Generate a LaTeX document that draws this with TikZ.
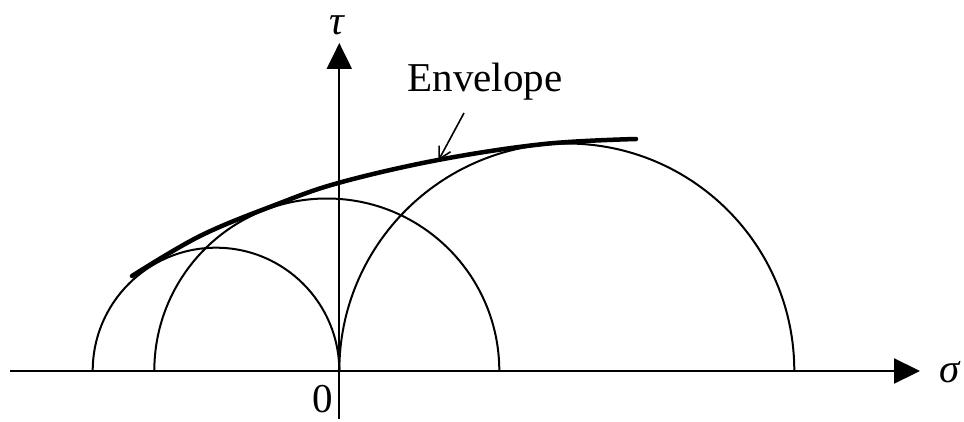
\documentclass[tikz,border=0pt]{standalone}
\usepackage{fontspec}
\setmainfont{Liberation Serif}
\usetikzlibrary{arrows.meta}

\begin{document}
\begin{tikzpicture}[x=1pt,y=1pt,
  axis/.style={line width=2.2pt,-{Triangle[length=26pt,width=25pt]}},
  mohr/.style={line width=2pt},
  envline/.style={line width=4.5pt,line cap=round},
  pointer/.style={line width=1.6pt,-{Straight Barb[length=12pt,width=13pt]}},
  lbl/.style={font=\fontsize{41}{48}\selectfont,inner sep=0pt}
]
\useasboundingbox (0,0) rectangle (964,421);
% axes
\coordinate (sl) at (10,50);
\coordinate (sr) at (920,50);
\coordinate (tb) at (339.3,2);
\coordinate (tt) at (339.3,378);
\draw[axis] (sl) -- (sr);
\draw[axis] (tb) -- (tt);
\node[lbl,anchor=base] (sig) at (950,39) {\itshape σ};
\node[lbl,anchor=base] (tau) at (337,386) {\itshape τ};
\node[lbl,anchor=base] (zero) at (322.7,9) {0};
% Mohr circles (right end / radius)
\foreach \r/\rad in {339.3/123.3,499.3/172.5,794.3/227.5}
  \draw[mohr] (\r,50) arc[start angle=0,end angle=180,radius=\rad];
% envelope
\draw[envline] plot[smooth,tension=0.6] coordinates
  {(132,145) (200,185) (275,216) (339.3,238.3) (438,261) (544,277) (636,282)};
\node[lbl,anchor=base] (env) at (485,329) {Envelope};
\coordinate (tail) at (464,308);
\coordinate (hit) at (438.3,260.3);
\draw[pointer] (tail) -- (hit);
\end{tikzpicture}
\end{document}
